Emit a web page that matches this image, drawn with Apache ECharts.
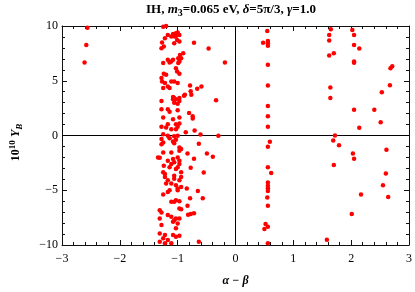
<!DOCTYPE html>
<html><head><meta charset="utf-8">
<script src="https://cdn.jsdelivr.net/npm/echarts@6/dist/echarts.min.js"></script>
<style>html,body{margin:0;padding:0;background:#fff}#c{width:415px;height:292px}</style>
</head><body><div id="c"></div>
<script>
var xTicks = [-3, -2, -1, 0, 1, 2, 3];
var yTicks = [-10, -5, 0, 5, 10];
var leftGroup = [[-2.56,9.85],[-2.58,8.27],[-2.61,6.66]];
var cluster = [
[-1.25,9.94],[-1.20,10.0],[-1.17,9.18],[-1.11,9.03],[-1.08,9.27],[-1.03,9.33],[-1.0,9.4],[-0.97,9.18],[-1.05,9.03],[-1.01,8.73],[-1.06,8.43],[-0.97,8.58],[-1.22,8.88],[-1.27,8.49],[-1.24,8.12],[-1.03,9.09],[-1.28,7.97],
[-1.25,6.61],[-1.17,6.91],[-1.14,6.67],[-1.11,6.76],[-1.08,6.91],[-0.97,6.97],[-0.96,7.36],[-0.99,6.61],[-1.03,6.15],[-1.01,5.85],[-0.97,5.64],[-1.24,5.64],[-1.2,5.55],[-1.28,5.24],[-1.27,4.94],[-1.22,4.79],[-1.11,4.94],[-1.06,4.94],[-1.0,4.79],[-1.17,4.48],[-1.14,4.33],[-1.25,4.33],[-1.08,3.52],[-1.06,3.42],[-0.97,3.42],[-0.89,3.64],
[-0.99,7.06],[-0.94,7.06],[-0.97,6.75],
[-1.28,3.15],[-1.08,3.3],[-1.03,3.3],[-0.97,3.15],[-1.06,3.0],[-1.0,2.9],[-1.28,2.39],[-1.17,2.39],[-1.14,2.18],[-1.0,2.3],[-1.25,1.64],[-1.08,1.48],[-0.97,1.64],[-1.17,1.03],[-1.03,1.03],[-0.97,1.09],[-1.28,0.79],[-1.2,0.73],[-1.11,0.58],[-1.03,0.58],[-1.0,0.79],[-1.25,0.12],[-1.17,-0.03],[-1.06,-0.06],[-1.0,-0.03],[-1.28,-0.33],[-1.28,-0.79],[-1.25,-0.64],[-1.14,-0.24],[-1.08,-0.55],[-1.06,-0.7],[-1.03,-0.39],[-0.97,-1.09],[-0.94,-1.24],[-1.25,-1.55],[-1.11,-1.55],[-0.97,-1.39],[-1.34,-2.0],[-1.08,-2.15],[-1.06,-2.45],[-1.0,-2.0],[-0.97,-2.3],[-1.17,-2.3],[-1.24,-2.76],[-1.14,-2.91],[-1.11,-2.61],[-1.0,-2.91],[-0.97,-2.61],[-1.25,-3.36],[-1.22,-3.52],[-1.03,-3.06],[-0.94,-3.36],[-1.06,-3.67],[-1.31,-2.03],
[-1.22,-3.79],[-1.17,-4.09],[-1.06,-3.94],[-0.97,-4.09],[-0.94,-3.79],[-1.2,-4.39],[-1.11,-4.39],[-1.03,-4.55],[-1.0,-5.0],[-1.0,-4.85],[-0.94,-4.7],[-1.14,-5.0],[-1.17,-5.15],[-1.25,-5.39],[-1.11,-6.06],[-1.06,-6.06],[-1.03,-5.91],[-0.97,-6.0],[-0.97,-6.67],[-0.94,-6.73],[-1.31,-6.82],[-1.28,-7.03],[-1.17,-7.27],[-1.31,-7.58],[-1.28,-8.18],[-1.11,-7.42],[-1.06,-7.73],[-1.08,-7.88],[-1.03,-7.58],[-0.97,-7.58],[-1.0,-8.03],[-1.03,-8.48],[-1.31,-8.94],[-1.22,-9.09],[-1.25,-9.39],[-1.08,-9.09],[-1.03,-9.24],[-0.97,-9.15],[-1.17,-9.55],[-1.31,-9.7],[-1.22,-9.85],[-1.11,-9.85]
];
var scatterMid = [[-0.718,8.48],[-0.465,7.94],[-0.904,7.52],[-0.183,6.66],[-0.786,4.57],[-0.662,4.27],[-0.589,4.48],[-0.775,4.03],[-0.764,3.73],[-0.875,3.73],[-0.336,3.21],[-0.803,2.06],[-0.74,1.75],[-0.74,1.55],[-0.707,0.45],[-0.86,0.3],[-0.605,0.09],[-0.296,-0.03],[-0.634,-0.76],[-0.494,-1.64],[-0.392,-1.94],[-0.718,-2.12],[-0.83,-1.64],[-0.775,-2.94],[-0.549,-3.39],[-0.842,-4.85],[-0.651,-5.06],[-0.566,-5.73],[-0.786,-5.73],[-0.83,-6.42],[-0.718,-7.09],[-0.775,-7.18],[-0.82,-7.24],[-0.634,-9.7]];
var nearHalf = [[0.549,9.55],[0.477,8.48],[0.56,8.64],[0.56,8.43],[0.56,8.2],[0.56,6.45],[0.56,4.57],[0.56,2.7],[0.56,1.76],[0.56,0.79],[0.594,-0.57],[0.56,-1.03],[0.56,-2.9],[0.617,-3.42],[0.56,-4.3],[0.56,-4.6],[0.56,-4.82],[0.56,-5.06],[0.55,-5.67],[0.56,-6.42],[0.52,-8.09],[0.56,-8.33],[0.5,-8.55],[0.56,-9.85]];
var rightGroup = [[1.648,9.7],[1.62,9.18],[1.62,8.67],[1.62,7.3],[1.70,7.52],[2.02,9.64],[2.05,9.18],[2.05,8.27],[2.14,7.94],[2.05,6.76],[2.05,6.64],[2.68,6.15],[2.71,6.33],[1.64,4.39],[1.64,3.42],[2.05,2.36],[2.40,2.36],[2.53,3.94],[2.67,4.58],[2.51,1.21],[2.14,0.70],[1.72,0.0],[1.69,-0.45],[1.79,-0.88],[2.03,-1.64],[2.05,-2.12],[1.70,-2.7],[2.61,-1.3],[2.60,-3.48],[2.55,-4.55],[2.64,-5.61],[2.17,-5.39],[2.01,-7.18],[1.58,-9.52]];

var allPoints = leftGroup.concat(cluster, scatterMid, nearHalf, rightGroup);
var serif = '"Liberation Serif","DejaVu Serif",serif';
var fmt = function (v) { return String(v).replace('-', '\u2212'); };
var rich = {
  n: {fontFamily: serif, fontSize: 13, fontWeight: 'bold', color: '#000', lineHeight: 16, verticalAlign: 'middle'},
  i: {fontFamily: serif, fontSize: 13, fontWeight: 'bold', fontStyle: 'italic', color: '#000', lineHeight: 16, verticalAlign: 'middle'},
  sub: {fontFamily: serif, fontSize: 10, fontWeight: 'bold', color: '#000', verticalAlign: 'bottom', lineHeight: 10},
  subi: {fontFamily: serif, fontSize: 9, fontWeight: 'bold', fontStyle: 'italic', color: '#000', verticalAlign: 'bottom', lineHeight: 10},
  sup: {fontFamily: serif, fontSize: 9, fontWeight: 'bold', color: '#000', verticalAlign: 'top', lineHeight: 10}
};
function axisCommon(pos, showLabel) {
  return {
    type: 'value', position: pos,
    axisLine: {show: true, onZero: false, lineStyle: {color: '#111', width: 1}},
    axisTick: {show: true, inside: true, length: 5, lineStyle: {color: '#111'}},
    minorTick: {show: true, splitNumber: 5, length: 3, lineStyle: {color: '#111'}},
    splitLine: {show: false},
    axisLabel: {show: showLabel, formatter: fmt, fontFamily: serif, fontSize: 12, color: '#000', margin: 6}
  };
}
var xb = axisCommon('bottom', true);
xb.min = xTicks[0]; xb.max = xTicks[xTicks.length - 1]; xb.interval = 1;
xb.axisLabel.margin = 8;
xb.name = 'α − β'; xb.nameLocation = 'middle'; xb.nameGap = 30;
xb.nameTextStyle = {fontFamily: serif, fontSize: 12, fontStyle: 'italic', fontWeight: 'bold', color: '#000'};
var xt = axisCommon('top', false);
xt.min = xTicks[0]; xt.max = xTicks[xTicks.length - 1]; xt.interval = 1;
var yl = axisCommon('left', true);
yl.min = yTicks[0]; yl.max = yTicks[yTicks.length - 1]; yl.interval = 5;
yl.axisLabel.margin = 4;
yl.name = '{sn|10}{sup|10} {i|Y}{subi|B}'; yl.nameLocation = 'middle'; yl.nameGap = 38; yl.nameRotate = 90;
yl.nameTextStyle = {padding: [0, 14, 0, 0], rich: {sn: {fontFamily: serif, fontSize: 12, fontWeight: 'bold', color: '#000', lineHeight: 16, verticalAlign: 'middle'}, sup: rich.sup, i: {fontFamily: serif, fontSize: 12, fontWeight: 'bold', fontStyle: 'italic', color: '#000', lineHeight: 16, verticalAlign: 'middle'}, subi: rich.subi}};
var yr = axisCommon('right', false);
yr.min = yTicks[0]; yr.max = yTicks[yTicks.length - 1]; yr.interval = 5;

var chart = echarts.init(document.getElementById('c'), null, {renderer: 'canvas'});
chart.setOption({
  animation: false,
  backgroundColor: '#fff',
  grid: {left: 55, right: 5, top: 26, bottom: 46},
  xAxis: [xb, xt],
  yAxis: [yl, yr],
  graphic: [{
    type: 'text', x: 231, y: 10,
    style: {
      text: '{n|IH, }{i|m}{sub|3}{n|=0.065 eV, }{i|δ}{n|=5π/3, }{i|γ}{n|=1.0}',
      rich: rich, align: 'center', verticalAlign: 'middle'
    }
  }],
  series: [{
    type: 'scatter', xAxisIndex: 0, yAxisIndex: 0,
    data: allPoints, symbolSize: 4.5,
    itemStyle: {color: '#ff0000', opacity: 1},
    markLine: {
      silent: true, symbol: ['none', 'none'], label: {show: false},
      lineStyle: {color: '#000', width: 1, type: 'solid'},
      data: [{xAxis: 0}, {yAxis: 0}],
      z: 1
    }
  }]
});
</script></body></html>
